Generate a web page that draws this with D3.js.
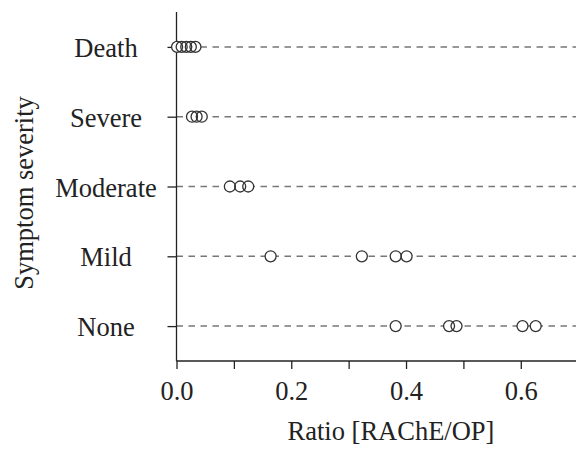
<!DOCTYPE html>
<html><head><meta charset="utf-8">
<script src="https://cdn.jsdelivr.net/npm/d3@7/dist/d3.min.js"></script>
<style>
html,body{margin:0;padding:0;background:#fff;}
svg text{font-family:"Liberation Serif","DejaVu Serif",serif !important;fill:#222;}
</style></head>
<body>
<svg id="chart" width="576" height="450"></svg>
<script>
const categories = ["Death","Severe","Moderate","Mild","None"];
const deathValues = [0.001, 0.009, 0.017, 0.025, 0.033];
const severeValues = [0.027, 0.035, 0.044];
const moderateValues = [0.093, 0.111, 0.125];
const mildValues = [0.164, 0.323, 0.382, 0.401];
const noneValues = [0.382, 0.475, 0.488, 0.603, 0.626];
const xTicks = [0, 0.1, 0.2, 0.3, 0.4, 0.5, 0.6, 0.7];
const xLabel = "Ratio [RAChE/OP]";
const yLabel = "Symptom severity";

const seriesByCat = {Death: deathValues, Severe: severeValues, Moderate: moderateValues, Mild: mildValues, None: noneValues};
const points = [];
categories.forEach(c => seriesByCat[c].forEach(v => points.push({cat: c, v: v})));

const FONT = '"Liberation Serif","DejaVu Serif",serif';
const svg = d3.select("#chart");
const pLeft = 176.5, pRight = 576, pTop = 12, pBottom = 361;
const x = d3.scaleLinear().domain([0, 0.7]).range([pLeft, pLeft + 0.7 * 573.8]);
const y = d3.scalePoint().domain(categories).range([pTop, pBottom]).padding(0.5);

const fs = 26.5;

// dashed row lines
svg.append("g").selectAll("line").data(categories).join("line")
  .attr("x1", pLeft).attr("x2", pRight)
  .attr("y1", d => y(d)).attr("y2", d => y(d))
  .attr("stroke", "#777").attr("stroke-width", 1.5)
  .attr("stroke-dasharray", "6.5,5.5");

// x axis
const xAxis = d3.axisBottom(x).tickValues(xTicks).tickSize(8)
  .tickFormat(d => (Math.round(d * 10) % 2 === 0 && d < 0.65) ? d3.format(".1f")(d) : "");
const gx = svg.append("g").attr("transform", `translate(0,${pBottom})`).call(xAxis)
  .attr("font-family", FONT).attr("font-size", fs);
gx.select(".domain").attr("stroke", "#222").attr("stroke-width", 1.3).attr("d", `M${pLeft},0H${pRight}`);
gx.selectAll(".tick line").attr("stroke", "#222").attr("stroke-width", 1.3);
gx.selectAll(".tick text").attr("font-size", fs).attr("fill", "#222").attr("dy", 0).attr("y", 39);

// y axis
const yAxis = d3.axisLeft(y).tickSize(9).tickFormat("");
const gy = svg.append("g").attr("transform", `translate(${pLeft},0)`).call(yAxis);
gy.select(".domain").attr("stroke", "#222").attr("stroke-width", 1.3).attr("d", `M0,${pTop}V${pBottom}`);
gy.selectAll(".tick line").attr("stroke", "#222").attr("stroke-width", 1.3);

// category labels (centered)
svg.append("g").attr("font-family", FONT).selectAll("text").data(categories).join("text")
  .attr("x", 106).attr("y", d => y(d) + 10)
  .attr("text-anchor", "middle").attr("font-size", fs)
  .text(d => d);

// points: fills first, then outlines
const gp = svg.append("g");
gp.selectAll("circle.f").data(points).join("circle").attr("class", "f")
  .attr("cx", d => x(d.v)).attr("cy", d => y(d.cat)).attr("r", 5.5)
  .attr("fill", "#fff").attr("stroke", "none");
gp.selectAll("circle.s").data(points).join("circle").attr("class", "s")
  .attr("cx", d => x(d.v)).attr("cy", d => y(d.cat)).attr("r", 5.5)
  .attr("fill", "none").attr("stroke", "#333").attr("stroke-width", 1.3);

// axis titles
svg.append("text").attr("x", 391).attr("y", 440)
  .attr("text-anchor", "middle").attr("font-size", fs).attr("font-family", FONT)
  .text(xLabel);

svg.append("text").attr("transform", "translate(33,193) rotate(-90)")
  .attr("text-anchor", "middle").attr("font-size", fs).attr("font-family", FONT).text(yLabel);
</script>
</body></html>
